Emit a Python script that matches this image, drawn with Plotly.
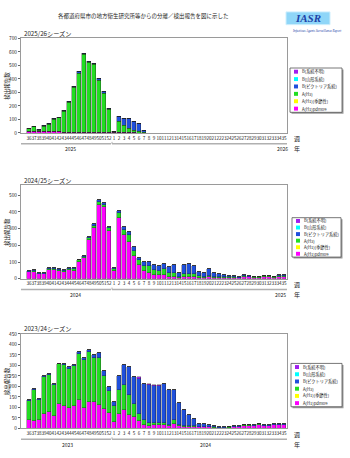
import plotly.graph_objects as go

W, H = 350, 458

weeks = [str(w) for w in range(36, 53)] + [str(w) for w in range(1, 36)]

series_names = ["A(H1)pdm09", "A(H1)(季節性)", "A(H3)", "B(ビクトリア系統)", "B(山形系統)", "B(系統不明)"]
series_colors = ["#FF00FF", "#FFFF00", "#22DD22", "#1F4FDC", "#00FFFF", "#A020F0"]

# ---------------- 2025/26 season ----------------
s2526_pdm09 = [10, 15, 8, 15, 10, 15, 12, 6, 6, 5, 5, 5, 4, 4, 3, 3, 2,
               1, 2, 1, 1, 1, 0, 0, 0, 0, 0, 0, 0, 0, 0, 0, 0, 0, 0, 0, 0, 0, 0, 0, 0, 0, 0, 0, 0, 0, 0, 0, 0, 0, 0, 0]
s2526_h1 = [0, 0, 0, 0, 0, 0, 0, 0, 0, 0, 0, 0, 0, 0, 0, 0, 0,
            0, 0, 0, 0, 0, 0, 0, 0, 0, 0, 0, 0, 0, 0, 0, 0, 0, 0, 0, 0, 0, 0, 0, 0, 0, 0, 0, 0, 0, 0, 0, 0, 0, 0, 0]
s2526_h3 = [22, 30, 12, 33, 55, 83, 100, 150, 218, 332, 437, 573, 515, 500, 385, 292, 172,
            9, 83, 55, 35, 20, 10, 2, 0, 0, 0, 0, 0, 0, 0, 0, 0, 0, 0, 0, 0, 0, 0, 0, 0, 0, 0, 0, 0, 0, 0, 0, 0, 0, 0, 0]
s2526_vic = [5, 4, 3, 5, 5, 6, 6, 8, 10, 10, 10, 12, 10, 14, 14, 12, 11,
             2, 40, 52, 68, 68, 58, 17, 0, 0, 0, 0, 0, 0, 0, 0, 0, 0, 0, 0, 0, 0, 0, 0, 0, 0, 0, 0, 0, 0, 0, 0, 0, 0, 0, 0]
s2526_yam = [0, 0, 0, 0, 0, 0, 0, 0, 0, 0, 0, 0, 0, 0, 0, 0, 0,
             0, 0, 0, 0, 0, 0, 0, 0, 0, 0, 0, 0, 0, 0, 0, 0, 0, 0, 0, 0, 0, 0, 0, 0, 0, 0, 0, 0, 0, 0, 0, 0, 0, 0, 0]
s2526_bunk = [0, 0, 0, 0, 0, 0, 0, 0, 0, 0, 0, 0, 0, 0, 0, 0, 0,
              0, 0, 0, 0, 0, 0, 0, 0, 0, 0, 0, 0, 0, 0, 0, 0, 0, 0, 0, 0, 0, 0, 0, 0, 0, 0, 0, 0, 0, 0, 0, 0, 0, 0, 0]

# ---------------- 2024/25 season ----------------
s2425_pdm09 = [38, 40, 27, 27, 53, 52, 44, 38, 52, 48, 100, 122, 228, 303, 440, 430, 285,
               48, 360, 262, 220, 135, 80, 45, 35, 22, 20, 20, 12, 12, 6, 10, 12, 10, 6, 5, 8, 5, 5, 5, 4, 5, 3, 10, 8, 6, 6, 10, 10, 4, 12, 10]
s2425_h1 = [0, 0, 0, 0, 0, 0, 0, 0, 0, 0, 0, 0, 0, 0, 0, 0, 0,
            0, 0, 0, 0, 0, 0, 0, 0, 0, 0, 0, 0, 0, 0, 0, 0, 0, 0, 0, 0, 0, 0, 0, 0, 0, 0, 0, 0, 0, 0, 0, 0, 0, 0, 0]
s2425_h3 = [3, 8, 2, 2, 5, 6, 7, 9, 6, 9, 10, 10, 12, 14, 20, 12, 15,
            10, 30, 30, 40, 30, 30, 30, 40, 28, 25, 35, 20, 20, 5, 15, 18, 15, 8, 5, 7, 5, 3, 3, 3, 2, 2, 5, 4, 3, 4, 4, 4, 3, 6, 8]
s2425_vic = [2, 3, 2, 2, 3, 3, 4, 4, 3, 4, 4, 5, 7, 8, 10, 13, 6,
             3, 12, 14, 16, 23, 15, 25, 25, 34, 33, 35, 37, 48, 20, 55, 58, 50, 27, 21, 40, 25, 17, 12, 9, 9, 3, 5, 4, 3, 2, 2, 2, 1, 2, 2]
s2425_yam = [0, 0, 0, 0, 0, 0, 0, 0, 0, 0, 0, 0, 0, 0, 0, 0, 0,
             0, 0, 0, 0, 0, 0, 0, 0, 0, 0, 0, 0, 0, 0, 0, 0, 0, 0, 0, 0, 0, 0, 0, 0, 0, 0, 0, 0, 0, 0, 0, 0, 0, 0, 0]
s2425_bunk = [0, 0, 0, 0, 0, 0, 0, 0, 0, 0, 0, 0, 0, 0, 0, 0, 0,
              0, 0, 0, 0, 0, 0, 0, 0, 0, 0, 0, 0, 0, 0, 0, 0, 0, 0, 0, 0, 0, 0, 0, 0, 0, 0, 0, 0, 0, 0, 0, 0, 0, 0, 0]

# ---------------- 2023/24 season ----------------
s2324_pdm09 = [40, 37, 40, 68, 77, 60, 115, 108, 97, 105, 135, 97, 128, 128, 113, 92, 72,
               30, 70, 88, 65, 57, 38, 15, 12, 15, 15, 15, 10, 22, 10, 8, 5, 5, 5, 5, 5, 4, 3, 3, 4, 6, 6, 12, 12, 10, 15, 10, 10, 15, 15, 15]
s2324_h1 = [0, 0, 0, 0, 0, 0, 0, 0, 0, 0, 0, 0, 0, 0, 0, 0, 0,
            0, 0, 0, 0, 0, 0, 0, 0, 0, 0, 0, 0, 0, 0, 0, 0, 0, 0, 0, 0, 0, 0, 0, 0, 0, 0, 0, 0, 0, 0, 0, 0, 0, 0, 0]
s2324_h3 = [90, 148, 95, 178, 178, 148, 190, 193, 188, 195, 222, 230, 235, 210, 222, 160, 108,
            75, 113, 117, 95, 61, 32, 28, 13, 10, 10, 10, 8, 20, 8, 5, 5, 5, 3, 3, 3, 2, 1, 1, 2, 2, 3, 4, 4, 3, 5, 3, 3, 4, 4, 4]
s2324_vic = [5, 5, 5, 4, 3, 5, 3, 4, 8, 3, 8, 8, 9, 14, 25, 23, 20,
             22, 67, 98, 133, 125, 168, 167, 183, 178, 178, 188, 165, 141, 102, 73, 56, 37, 14, 14, 11, 5, 2, 2, 2, 3, 2, 3, 3, 3, 3, 3, 3, 3, 3, 3]
s2324_yam = [0, 0, 0, 0, 0, 0, 0, 0, 0, 0, 0, 0, 0, 0, 0, 0, 0,
             0, 0, 0, 0, 0, 0, 0, 0, 0, 0, 0, 0, 0, 0, 0, 0, 0, 0, 0, 0, 0, 0, 0, 0, 0, 0, 0, 0, 0, 0, 0, 0, 0, 0, 0]
s2324_bunk = [0, 0, 0, 0, 0, 0, 0, 0, 0, 0, 0, 0, 0, 0, 0, 0, 0,
              0, 0, 0, 0, 0, 5, 3, 2, 2, 2, 0, 0, 0, 0, 0, 0, 0, 0, 0, 0, 0, 0, 0, 0, 0, 0, 0, 0, 0, 0, 0, 0, 0, 0, 0]

season_titles = ["2025/26シーズン", "2024/25シーズン", "2023/24シーズン"]
year_labels = [["2025", "2026"], ["2024", "2025"], ["2023", "2024"]]
y_ranges = [700, 560, 450]
y_dticks = [100, 100, 50]

panels = [
    [s2526_pdm09, s2526_h1, s2526_h3, s2526_vic, s2526_yam, s2526_bunk],
    [s2425_pdm09, s2425_h1, s2425_h3, s2425_vic, s2425_yam, s2425_bunk],
    [s2324_pdm09, s2324_h1, s2324_h3, s2324_vic, s2324_yam, s2324_bunk],
]

# ---------------- layout geometry (pixels) ----------------
FONT = "Noto Sans CJK JP"
plot_left, plot_right = 21, 287
panel_tops = [35, 184, 335]
panel_bottoms = [131, 279, 431]
legend_boxes = [(290, 342, 65, 110), (292, 341, 217, 257), (291, 342, 365, 409)]
year_pos = [[70, 282], [75, 280], [67, 205]]
XR = [-1.6, 51.6]


def px(x):
    return x / W


def py(y):
    return 1 - y / H


fig = go.Figure()
xs = list(range(len(weeks)))

for p in range(3):
    ax = "" if p == 0 else str(p + 1)
    for k in range(6):
        fig.add_trace(go.Bar(
            x=xs, y=panels[p][k], name=series_names[k],
            marker=dict(color=series_colors[k], line=dict(width=0.4, color="rgba(30,30,30,0.85)")),
            width=0.72, showlegend=False,
            xaxis="x" + ax, yaxis="y" + ax,
        ))

layout = dict(
    width=W, height=H, autosize=False,
    margin=dict(l=0, r=0, t=0, b=0),
    paper_bgcolor="white", plot_bgcolor="white",
    barmode="stack", bargap=0,
    font=dict(family=FONT, size=5, color="#222"),
)

shapes = []
annotations = []

for p in range(3):
    ax = "" if p == 0 else str(p + 1)
    xd = [px(plot_left), px(plot_right)]
    yd = [py(panel_bottoms[p]), py(panel_tops[p])]
    layout["xaxis" + ax] = dict(
        domain=xd, anchor="y" + ax, range=XR,
        tickmode="array", tickvals=xs, ticktext=weeks, tickangle=0,
        tickfont=dict(size=4.6, family=FONT, color="#222"),
        ticks="", showgrid=False, zeroline=False,
        showline=True, mirror=True, linecolor="#9a9a9a", linewidth=1,
        fixedrange=True,
    )
    layout["yaxis" + ax] = dict(
        domain=yd, anchor="x" + ax, range=[0, y_ranges[p]], dtick=y_dticks[p],
        tickfont=dict(size=4.8, family=FONT, color="#222"),
        ticks="outside", ticklen=2, tickcolor="#666",
        showgrid=False, zeroline=False,
        showline=True, mirror=True, linecolor="#9a9a9a", linewidth=1,
        fixedrange=True,
    )

    # season title
    annotations.append(dict(text=season_titles[p], x=px(22), y=py(panel_tops[p] - 5),
                            xref="paper", yref="paper", xanchor="left", yanchor="middle",
                            showarrow=False, font=dict(size=6.2, family=FONT, color="#222")))
    # y-axis title
    annotations.append(dict(text="検出報告数", x=px(7), y=py((panel_tops[p] + panel_bottoms[p]) / 2),
                            xref="paper", yref="paper", xanchor="center", yanchor="middle",
                            textangle=-90, showarrow=False, font=dict(size=5.5, family=FONT, color="#222")))
    # year separator lines
    yl = py(panel_bottoms[p] + 11)
    shapes.append(dict(type="line", xref="x" + ax, yref="paper", x0=XR[0], x1=16.4, y0=yl, y1=yl,
                       line=dict(color="#b0b0b0", width=1.5)))
    shapes.append(dict(type="line", xref="x" + ax, yref="paper", x0=16.6, x1=XR[1], y0=yl, y1=yl,
                       line=dict(color="#b0b0b0", width=1.5)))
    shapes.append(dict(type="line", xref="x" + ax, yref="paper", x0=16.6, x1=16.6, y0=yl, y1=py(panel_bottoms[p] + 9),
                       line=dict(color="#b0b0b0", width=1)))
    # year labels
    for j in range(2):
        annotations.append(dict(text=year_labels[p][j], x=px(year_pos[p][j]), y=py(panel_bottoms[p] + 16),
                                xref="paper", yref="paper", xanchor="center", yanchor="middle",
                                showarrow=False, font=dict(size=5, family=FONT, color="#222")))
    # 週 / 年
    annotations.append(dict(text="週", x=px(297), y=py(panel_bottoms[p] + 6), xref="paper", yref="paper",
                            xanchor="center", yanchor="middle", showarrow=False,
                            font=dict(size=6, family=FONT, color="#222")))
    annotations.append(dict(text="年", x=px(297), y=py(panel_bottoms[p] + 16), xref="paper", yref="paper",
                            xanchor="center", yanchor="middle", showarrow=False,
                            font=dict(size=6, family=FONT, color="#222")))

    # manual legend
    x0, x1, y0, y1 = legend_boxes[p]
    shapes.append(dict(type="rect", xref="paper", yref="paper", x0=px(x0 + 1.5), x1=px(x1 + 1.5),
                       y0=py(y1 + 1.5), y1=py(y0 + 1.5), fillcolor="#9a9a9a", line=dict(width=0)))
    shapes.append(dict(type="rect", xref="paper", yref="paper", x0=px(x0), x1=px(x1),
                       y0=py(y1), y1=py(y0), fillcolor="white", line=dict(color="#555", width=0.8)))
    step = (y1 - y0) / 6.0
    for i in range(6):
        k = 5 - i
        cy = y0 + step * (i + 0.5)
        shapes.append(dict(type="rect", xref="paper", yref="paper", x0=px(x0 + 4), x1=px(x0 + 8),
                           y0=py(cy + 2), y1=py(cy - 2), fillcolor=series_colors[k],
                           line=dict(width=0)))
        annotations.append(dict(text=series_names[k], x=px(x0 + 10), y=py(cy), xref="paper", yref="paper",
                                xanchor="left", yanchor="middle", showarrow=False,
                                font=dict(size=4.2, family=FONT, color="#222")))

# header
annotations.append(dict(text="各都道府県市の地方衛生研究所等からの分離／検出報告を図に示した",
                        x=px(143), y=py(12), xref="paper", yref="paper", xanchor="center", yanchor="middle",
                        showarrow=False, font=dict(size=5.5, family=FONT, color="#222")))
# IASR logo
shapes.append(dict(type="rect", xref="paper", yref="paper", x0=px(286), x1=px(330), y0=py(21), y1=py(8),
                   fillcolor="#8fd6f8", line=dict(color="#cfeffd", width=1)))
annotations.append(dict(text="<b><i>IASR</i></b>", x=px(308), y=py(14.5), xref="paper", yref="paper",
                        xanchor="center", yanchor="middle", showarrow=False,
                        font=dict(size=11, family="Liberation Serif", color="#1d43a8")))
annotations.append(dict(text="<i>Infectious Agents Surveillance Report</i>", x=px(316), y=py(27.5),
                        xref="paper", yref="paper", xanchor="center", yanchor="middle", showarrow=False,
                        font=dict(size=3.2, family="Liberation Serif", color="#1d43a8")))

layout["shapes"] = shapes
layout["annotations"] = annotations
fig.update_layout(**layout)

fig.write_html("out.html")
